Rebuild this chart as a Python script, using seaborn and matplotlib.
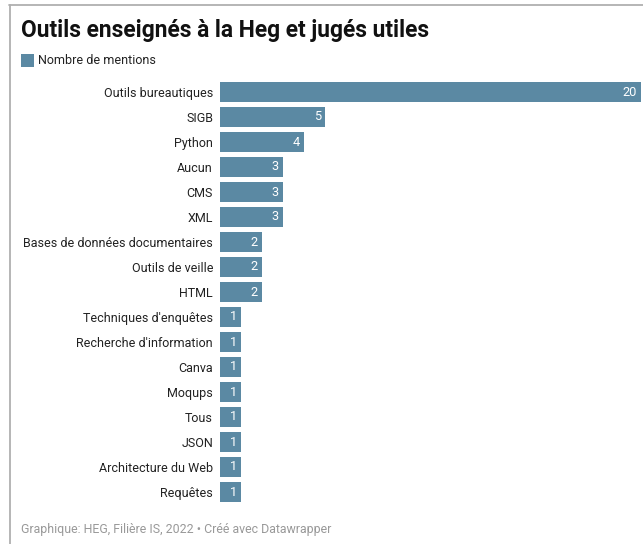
import matplotlib
matplotlib.use("Agg")
import matplotlib.pyplot as plt
from matplotlib.lines import Line2D
from matplotlib.patches import Rectangle
import seaborn as sns
import pandas as pd

categories = [
    "Outils bureautiques", "SIGB", "Python", "Aucun", "CMS", "XML",
    "Bases de données documentaires", "Outils de veille", "HTML",
    "Techniques d'enquêtes", "Recherche d'information", "Canva", "Moqups",
    "Tous", "JSON", "Architecture du Web", "Requêtes",
]
mentions = [20, 5, 4, 3, 3, 3, 2, 2, 2, 1, 1, 1, 1, 1, 1, 1, 1]

title = "Outils enseignés à la Heg et jugés utiles"
legend_label = "Nombre de mentions"
footer = "Graphique: HEG, Filière IS, 2022 • Créé avec Datawrapper"

bar_color = "#5b89a3"

sns.set_theme(style="white")
plt.rcParams["font.family"] = ["Roboto", "DejaVu Sans"]

W, H = 643, 544
fig = plt.figure(figsize=(W / 100, H / 100), dpi=100)

df = pd.DataFrame({"outil": categories, "mentions": mentions})

# axes placed in pixel coordinates
ax_left, ax_right = 220, 641
ax_top, ax_bottom = 79.5, 504.5
ax = fig.add_axes([ax_left / W, 1 - ax_bottom / H,
                   (ax_right - ax_left) / W, (ax_bottom - ax_top) / H])

sns.barplot(data=df, x="mentions", y="outil", color=bar_color, saturation=1,
            width=0.8, ax=ax, orient="h")
for p in ax.patches:
    p.set_edgecolor("none")

ax.set_xlim(0, 20)
ax.set_ylim(len(categories) - 0.5, -0.5)
ax.set_xlabel("")
ax.set_ylabel("")
ax.set_xticks([])
ax.tick_params(axis="y", length=0, pad=5, labelsize=9.0, labelcolor="#222222")
for s in ax.spines.values():
    s.set_visible(False)

# value labels inside the bar ends
for i, v in enumerate(mentions):
    ax.text(v - 0.2, i, str(v), ha="right", va="center",
            color="white", fontsize=9.2)

# frame lines on top and left
fig.add_artist(Line2D([9 / W, 643 / W], [1 - 5 / H, 1 - 5 / H],
                      color="#b0b0b0", lw=1.3, transform=fig.transFigure))
fig.add_artist(Line2D([9.5 / W, 9.5 / W], [1 - 5 / H, 0],
                      color="#b0b0b0", lw=1.3, transform=fig.transFigure))

fig.text(21 / W, 1 - 30 / H, title, fontsize=16.4, fontweight="bold",
         color="#111111", ha="left", va="center")

fig.add_artist(Rectangle((21 / W, 1 - 67 / H), 13 / W, 13 / H,
                         facecolor=bar_color, edgecolor="none",
                         transform=fig.transFigure))
fig.text(38 / W, 1 - 61 / H, legend_label, fontsize=9, color="#222222",
         ha="left", va="center")

fig.text(21 / W, 1 - 530 / H, footer, fontsize=8.9, color="#999999",
         ha="left", va="center")

fig.savefig("out.png", dpi=100, facecolor="white")
